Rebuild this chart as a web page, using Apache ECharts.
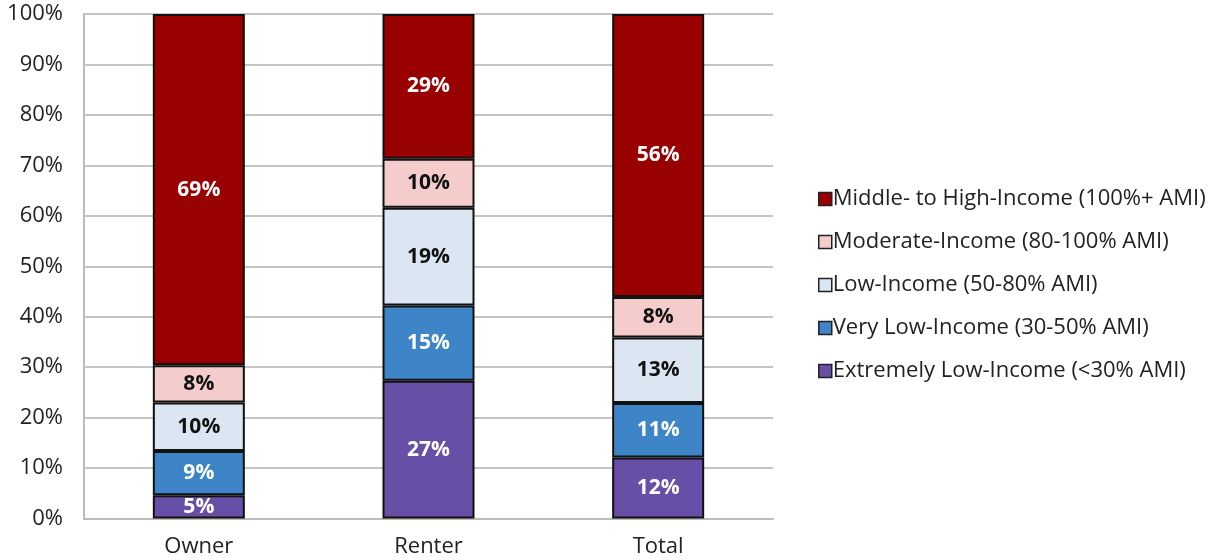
<!DOCTYPE html>
<html><head><meta charset="utf-8">
<script src="https://cdn.jsdelivr.net/npm/echarts@6/dist/echarts.min.js"></script>
<style>html,body{margin:0;padding:0;background:#fff}#c{width:1217px;height:560px}</style>
</head><body><div id="c"></div>
<script>
var categories = ['Owner', 'Renter', 'Total'];
var yTicks = [0, 10, 20, 30, 40, 50, 60, 70, 80, 90, 100];
var seriesNames = [
  'Extremely Low-Income (<30% AMI)',
  'Very Low-Income (30-50% AMI)',
  'Low-Income (50-80% AMI)',
  'Moderate-Income (80-100% AMI)',
  'Middle- to High-Income (100%+ AMI)'
];
var extremelyLow = [4.6, 27.3, 12.1];
var veryLow = [8.8, 14.9, 10.8];
var low = [9.6, 19.4, 13.0];
var moderate = [7.4, 9.7, 8.0];
var middleHigh = [69.6, 28.7, 56.1];
var extremelyLowLabels = ['5%', '27%', '12%'];
var veryLowLabels = ['9%', '15%', '11%'];
var lowLabels = ['10%', '19%', '13%'];
var moderateLabels = ['8%', '10%', '8%'];
var middleHighLabels = ['69%', '29%', '56%'];

var colors = ['#674ea7', '#3d85c6', '#dce6f2', '#f4cccc', '#990000'];
var textColors = ['#fff', '#fff', '#111', '#111', '#fff'];
var values = [extremelyLow, veryLow, low, moderate, middleHigh];
var labels = [extremelyLowLabels, veryLowLabels, lowLabels, moderateLabels, middleHighLabels];
var FONT = '"Open Sans", Lato, sans-serif';

var series = seriesNames.map(function (name, i) {
  return {
    name: name, type: 'bar', stack: 'all', barWidth: 92,
    data: values[i],
    itemStyle: { color: colors[i], borderColor: '#111', borderWidth: 2 },
    label: {
      show: true, position: 'inside', color: textColors[i],
      fontFamily: FONT, fontWeight: 'bold', fontSize: 21,
      formatter: function (p) { return labels[i][p.dataIndex]; }
    },
    emphasis: { disabled: true }
  };
});

var chart = echarts.init(document.getElementById('c'), null, { renderer: 'canvas' });
chart.setOption({
  animation: false,
  color: colors,
  grid: { left: 84, right: 444, top: 14, bottom: 41.5, containLabel: false },
  legend: {
    orient: 'vertical', left: 813, top: 183, itemGap: 21,
    itemWidth: 13, itemHeight: 13, icon: 'rect',
    data: seriesNames.slice().reverse(),
    textStyle: { fontFamily: FONT, fontSize: 22, color: '#222', padding: [0, 0, 0, -4] },
    itemStyle: { borderColor: '#222', borderWidth: 1.5 }
  },
  xAxis: {
    type: 'category', data: categories,
    axisLine: { show: true, lineStyle: { color: '#bbb', width: 2 } },
    axisTick: { show: false },
    axisLabel: { fontFamily: FONT, fontSize: 22, color: '#222', margin: 17 }
  },
  yAxis: {
    type: 'value', min: 0, max: 100, interval: 10,
    axisLine: { show: true, lineStyle: { color: '#bbb', width: 2 } },
    axisTick: { show: false },
    splitLine: { lineStyle: { color: '#c4c4c4', width: 2 } },
    axisLabel: {
      fontFamily: FONT, fontSize: 22, color: '#222', margin: 21,
      formatter: function (v) { return yTicks.indexOf(v) >= 0 ? v + '%' : ''; }
    }
  },
  series: series
});
</script></body></html>
